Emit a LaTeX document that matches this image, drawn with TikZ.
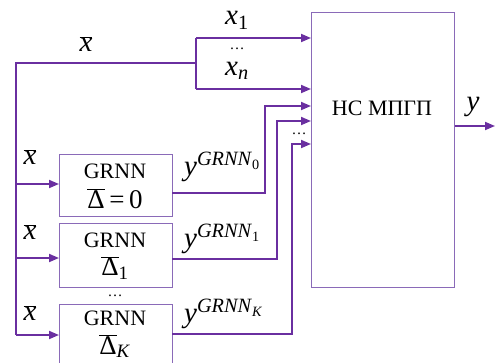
\documentclass[tikz,border=0pt]{standalone}
\usepackage{fontspec}
\setmainfont{Liberation Serif}
\usetikzlibrary{arrows.meta}
\definecolor{ln}{HTML}{6A2FA0}
\definecolor{bx}{HTML}{8A6AB8}
\newcommand{\xbar}{$\overline{\mbox{\textit{x}}}$}
\newcommand{\dbar}{$\overline{\mbox{Δ}}$}
\begin{document}
\begin{tikzpicture}[x=1pt,y=-1pt,
  conn/.style={draw=ln, line width=1.8pt},
  arr/.style={conn,-{Triangle[length=10pt,width=8pt]}},
  box/.style={draw=bx, line width=1.2pt, rectangle, anchor=north west, inner sep=0pt},
  lbl/.style={font=\fontsize{22}{24}\selectfont, inner sep=0pt},
  mth/.style={font=\fontsize{29}{30}\selectfont, inner sep=0pt},
  dlt/.style={font=\fontsize{27}{28}\selectfont, inner sep=0pt},
  dots/.style={font=\fontsize{15}{16}\selectfont, inner sep=0pt}]
\useasboundingbox (0,0) rectangle (495,362);
% blocks
\node[box, minimum width=143pt, minimum height=275pt] (mb) at (311,12) {};
\node[box, minimum width=113pt, minimum height=62pt] (g0) at (59,154) {};
\node[box, minimum width=113pt, minimum height=64pt] (g1) at (59,223) {};
\node[box, minimum width=113pt, minimum height=75pt] (gK) at (59,304) {};
% block texts
\node[lbl] (mbt) at (382,108) {НС МПГП};
\node[lbl] (g0a) at (115,171) {GRNN};
\node[dlt] (g0b) at (115,199) {\dbar\,=\,0};
\node[lbl] (g1a) at (115,240) {GRNN};
\node[dlt] (g1b) at (115,268) {\dbar\textsubscript{1}};
\node[lbl] (gKa) at (115,318) {GRNN};
\node[dlt] (gKb) at (115,346) {\dbar\textsubscript{\textit{K}}};
% coordinates
\coordinate (br) at (196,63);
\coordinate (brt) at (196,38);
\coordinate (brb) at (196,89);
\coordinate (L) at (16,63);
\coordinate (L0) at (16,184);
\coordinate (L1) at (16,258);
\coordinate (LK) at (16,335);
\coordinate (o0) at (172,193);
\coordinate (o1) at (172,259);
\coordinate (oK) at (172,334);
\coordinate (v0) at (265,193);
\coordinate (v1) at (277,259);
\coordinate (vK) at (292,334);
\coordinate (out) at (495,126);
% input bus
\draw[conn] (brt) -- (brb);
\draw[arr] (brt) -- (mb.west |- brt);
\draw[arr] (brb) -- (mb.west |- brb);
\draw[conn] (br) -- (L) -- (LK);
\draw[arr] (L0) -- (g0.west |- L0);
\draw[arr] (L1) -- (g1.west |- L1);
\draw[arr] (LK) -- (gK.west |- LK);
% GRNN outputs
\draw[arr] (o0) -- (v0) -- (v0 |- 0,106) -- (mb.west |- 0,106);
\draw[arr] (o1) -- (v1) -- (v1 |- 0,121) -- (mb.west |- 0,121);
\draw[arr] (oK) -- (vK) -- (vK |- 0,144) -- (mb.west |- 0,144);
% output
\draw[arr] (mb.east |- out) -- (out);
% labels
\node[mth] (lx) at (86,44) {\xbar};
\node[mth] (lx1) at (237,20) {\textit{x}\textsubscript{1}};
\node[dots] (ld1) at (237,49) {\ldots};
\node[mth] (lxn) at (237,71) {\textit{x}\textsubscript{\textit{n}}};
\node[mth] (lx0) at (30,157) {\xbar};
\node[mth] (lxa) at (30,232) {\xbar};
\node[mth] (lxb) at (30,313) {\xbar};
\node[mth, anchor=base west] (ly0) at (184,175) {\textit{y}\textsuperscript{\textit{GRNN}\textsubscript{0}}};
\node[mth, anchor=base west] (ly1) at (184,247) {\textit{y}\textsuperscript{\textit{GRNN}\textsubscript{1}}};
\node[mth, anchor=base west] (lyK) at (184,322) {\textit{y}\textsuperscript{\textit{GRNN}\textsubscript{\textit{K}}}};
\node[dots] (ld2) at (115,296) {\ldots};
\node[dots] (ld3) at (299,134) {\ldots};
\node[mth] (ly) at (473,107) {\textit{y}};
\end{tikzpicture}
\end{document}
